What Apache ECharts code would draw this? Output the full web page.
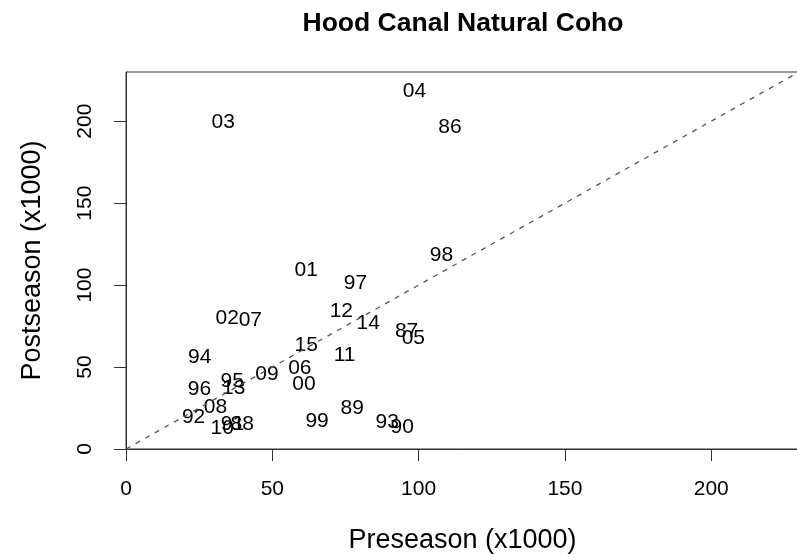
<!DOCTYPE html>
<html>
<head>
<meta charset="utf-8">
<title>Hood Canal Natural Coho</title>
<script src="https://cdn.jsdelivr.net/npm/echarts@6/dist/echarts.min.js"></script>
<style>
html,body{margin:0;padding:0;background:#fff;}
#box{width:797px;height:554px;}
</style>
</head>
<body>
<div id="box"></div>
<script>
// 年份标签 + 预测/实际 (x1000)
var years = ['86','87','88','89','90','91','92','93','94','95','96','97','98','99','00',
             '01','02','03','04','05','06','07','08','09','10','11','12','13','14','15'];
var preseason = [110.7, 95.9, 39.7, 77.3, 94.4, 36.4, 23.1, 89.3, 25.2, 36.3, 25.1, 78.4, 107.8, 65.3, 60.8,
                 61.6, 34.6, 33.2, 98.6, 98.2, 59.4, 42.5, 30.6, 48.2, 32.9, 74.7, 73.6, 36.8, 82.8, 61.6];
var postseason = [196.6, 71.6, 15.3, 24.8, 13.6, 15.3, 19.3, 16.3, 56.3, 41.1, 36.6, 101.1, 118.4, 16.7, 39.5,
                  109.2, 80.1, 199.3, 218.4, 67.5, 49.2, 78.3, 25.8, 45.6, 12.6, 57.4, 83.8, 37.0, 76.7, 63.5];
var xTicks = [0, 50, 100, 150, 200];
var yTicks = [0, 50, 100, 150, 200];
var oneToOne = [0, 230]; // y = x 参考线

var font = 'Liberation Sans, Arial, sans-serif';

function box(){
	var pts = [];
	$each(years, function(i, y){
		pts.push({value: [preseason[i], postseason[i]], name: y});
	});
	var ref = [];
	$each(oneToOne, function(i, v){ ref.push([v, v]); });

	var myChart = echarts.init(document.getElementById('box'), null, {renderer: 'canvas'});
	var option = {
		animation: false,
		title: {
			text: 'Hood Canal Natural Coho',
			left: 458,
			top: 5,
			textAlign: 'center',
			textStyle: {fontFamily: font, fontWeight: 'bold', fontSize: 26.5, color: '#000'}
		},
		grid: {
			left: 126, top: 72, width: 673, height: 377,
			outerBoundsMode: 'none',
			show: true, borderColor: '#333', borderWidth: 1, backgroundColor: 'transparent'
		},
		xAxis: {
			type: 'value', min: 0, max: 230, interval: 50,
			name: 'Preseason (x1000)', nameLocation: 'middle', nameGap: 78,
			nameTextStyle: {fontFamily: font, fontSize: 27, color: '#000'},
			axisLine: {show: true, onZero: false, lineStyle: {color: '#333', width: 1}},
			axisTick: {show: true, length: 12, lineStyle: {color: '#333'}},
			axisLabel: {
				margin: 30, fontFamily: font, fontSize: 21, color: '#000',
				showMaxLabel: false,
				formatter: function(v){ return xTicks.indexOf(v) >= 0 ? String(v) : ''; }
			},
			splitLine: {show: false}
		},
		yAxis: {
			type: 'value', min: 0, max: 230, interval: 50,
			name: 'Postseason (x1000)', nameLocation: 'middle', nameGap: 80,
			nameTextStyle: {fontFamily: font, fontSize: 27, color: '#000'},
			axisLine: {show: true, onZero: false, lineStyle: {color: '#333', width: 1}},
			axisTick: {show: true, length: 12, lineStyle: {color: '#333'}},
			axisLabel: {
				margin: 30, rotate: 90, fontFamily: font, fontSize: 21, color: '#000',
				showMaxLabel: false,
				formatter: function(v){ return yTicks.indexOf(v) >= 0 ? String(v) : ''; }
			},
			splitLine: {show: false}
		},
		series: [
			{
				type: 'line',
				data: ref,
				symbol: 'none',
				silent: true,
				lineStyle: {color: '#555', width: 1.3, type: [5, 6]}
			},
			{
				type: 'scatter',
				data: pts,
				symbolSize: 1,
				itemStyle: {color: 'rgba(0,0,0,0)', opacity: 1},
				label: {
					show: true, position: 'inside',
					formatter: function(p){ return p.name; },
					fontFamily: font, fontSize: 21, color: '#000',
					textBorderWidth: 0
				}
			}
		]
	};
	myChart.setOption(option, true);
}

function $each(arr, fn){
	for (var i = 0; i < arr.length; i++) fn(i, arr[i]);
}

box();
</script>
</body>
</html>
